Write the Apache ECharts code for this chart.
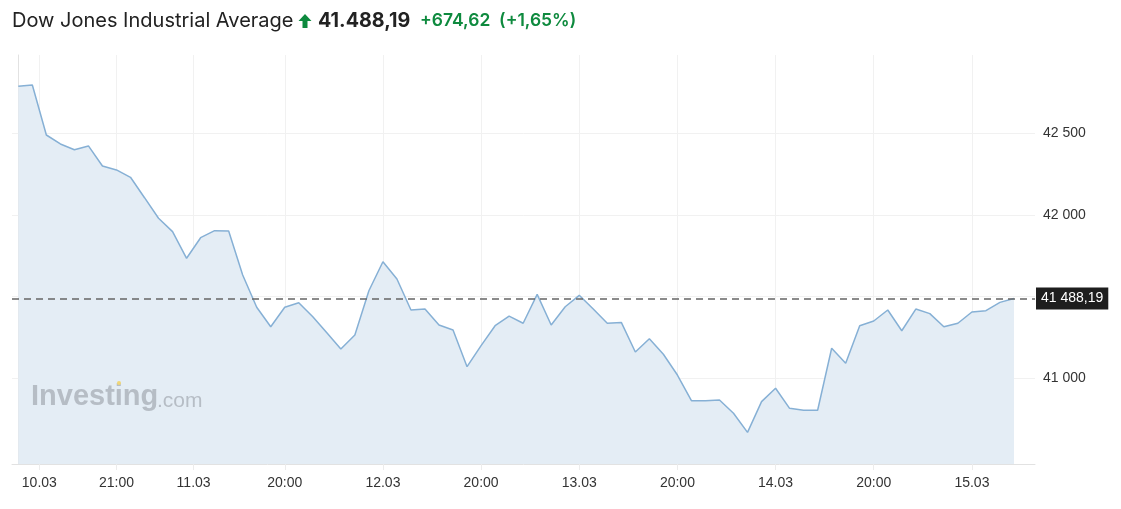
<!DOCTYPE html>
<html><head><meta charset="utf-8">
<script src="https://cdn.jsdelivr.net/npm/echarts@6/dist/echarts.min.js"></script>
<style>html,body{margin:0;padding:0;background:#fff}#c{width:1121px;height:509px}</style>
</head><body><div id="c"></div>
<script>
const prices = [
  42788, 42796, 42490, 42435, 42400, 42423, 42300, 42276, 42231, 42106,
  41980, 41898, 41735, 41861, 41904, 41902, 41633, 41435, 41316, 41435,
  41463, 41377, 41279, 41179, 41265, 41536, 41714, 41608, 41418, 41424,
  41326, 41296, 41071, 41200, 41322, 41381, 41337, 41514, 41326, 41438,
  41508, 41424, 41337, 41342, 41161, 41242, 41147, 41020, 40863, 40863,
  40867, 40786, 40669, 40857, 40939, 40816, 40804, 40804, 41184, 41092,
  41322, 41351, 41418, 41291, 41424, 41396, 41316, 41337, 41406, 41414,
  41465, 41488.19
];
const tickPositions = [1.5, 7, 12.5, 19, 26, 33, 40, 47, 54, 61, 68];
const tickLabels = ['10.03', '21:00', '11.03', '20:00', '12.03', '20:00', '13.03', '20:00', '14.03', '20:00', '15.03'];
const yTicks = [41000, 41500, 42000, 42500];
const yLabels = [41000, 42000, 42500];
const lastPrice = 41488.19;
const lastPriceLabel = '41 488,19';
const titleName = 'Dow Jones Industrial Average';
const titlePrice = '41.488,19';
const titleChange = '+674,62  (+1,65%)';

const fmtThousands = v => String(Math.round(v)).replace(/\B(?=(\d{3})+(?!\d))/g, ' ');
const chart = echarts.init(document.getElementById('c'), null, {renderer: 'canvas'});
chart.setOption({
  animation: false,
  backgroundColor: '#fff',
  grid: {left: 12, right: 86, top: 55, bottom: 45, containLabel: false},
  graphic: [
    {type: 'text', left: 12, top: 11, z: 10, style: {text: titleName, font: '400 20px Inter', fill: '#222'}},
    {type: 'polygon', z: 10, shape: {points: [[305, 14], [298.5, 21], [302.5, 21], [302.5, 28], [307.5, 28], [307.5, 21], [311.5, 21]]}, style: {fill: '#0e8a3e'}},
    {type: 'text', left: 318, top: 11, z: 10, style: {text: titlePrice, font: '700 19.7px Inter', fill: '#222'}},
    {type: 'text', left: 420, top: 12, z: 10, style: {text: titleChange, font: '600 17.5px Inter', fill: '#0e8a3e'}},
    {type: 'text', x: 31, y: 411, z: 10, style: {text: 'Investing', font: '700 29px "Liberation Sans", Arial', fill: '#b6bdc5', textVerticalAlign: 'bottom'}},
    {type: 'text', x: 157, y: 412, z: 10, style: {text: '.com', font: '400 21px "Liberation Sans", Arial', fill: '#b6bdc5', textVerticalAlign: 'bottom'}},
    {type: 'circle', z: 11, shape: {cx: 119, cy: 383, r: 2}, style: {fill: '#f0d676'}}
  ],
  xAxis: {
    type: 'value', min: -0.45, max: 72.5,
    axisLine: {show: true, lineStyle: {color: '#e2e2e2', width: 1}},
    axisTick: {show: true, customValues: tickPositions, length: 6, lineStyle: {color: '#ececec'}},
    axisLabel: {
      customValues: tickPositions, color: '#333', fontSize: 14, margin: 12,
      fontFamily: '"Liberation Sans", Arial, sans-serif',
      formatter: v => { const i = tickPositions.findIndex(p => Math.abs(p - v) < 1e-6); return i >= 0 ? tickLabels[i] : ''; }
    },
    splitLine: {show: true, lineStyle: {color: '#f1f1f1', width: 1}}
  },
  yAxis: {
    type: 'value', position: 'right', min: 40475, max: 42980, scale: true,
    axisLine: {show: true, lineStyle: {color: '#e2e2e2', width: 1}},
    axisTick: {show: true, customValues: yTicks, length: 4, lineStyle: {color: '#ececec'}},
    axisLabel: {
      customValues: yLabels, color: '#333', fontSize: 14, margin: 8,
      fontFamily: '"Liberation Sans", Arial, sans-serif',
      formatter: v => fmtThousands(v)
    },
    splitLine: {show: true, lineStyle: {color: '#f1f1f1', width: 1}}
  },
  series: [{
    type: 'line',
    data: prices.map((v, i) => [i, v]),
    symbol: 'none',
    lineStyle: {color: '#86b0d5', width: 1.5},
    areaStyle: {color: '#e4edf5', opacity: 1, origin: 'start'},
    markLine: {
      silent: true, symbol: ['none', 'none'],
      data: [{yAxis: lastPrice}],
      lineStyle: {type: [7, 5], color: '#666', width: 1.5},
      label: {
        position: 'end', distance: 1, formatter: lastPriceLabel,
        backgroundColor: '#1e1e1e', color: '#fff', padding: [4, 5, 4, 5],
        fontSize: 14, fontFamily: '"Liberation Sans", Arial, sans-serif'
      }
    }
  }]
});
</script></body></html>
